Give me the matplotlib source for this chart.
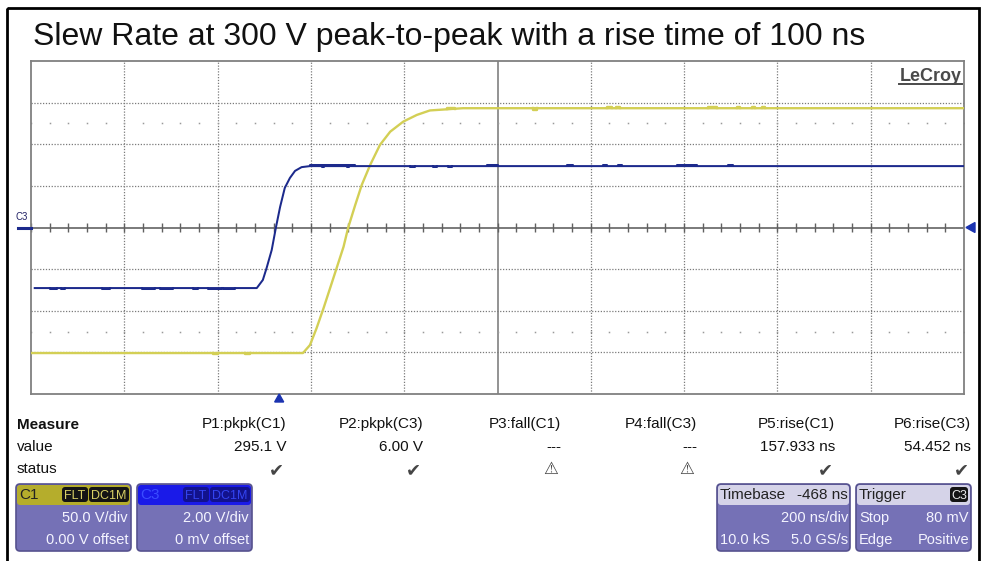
import numpy as np
import matplotlib
matplotlib.use("Agg")
import matplotlib.pyplot as plt
from matplotlib.patches import FancyBboxPatch, Rectangle, Polygon

# ---------------------------------------------
# Scope settings and traces (time in ns from screen centre, volts)
# ---------------------------------------------

c1_volts_per_div = 50.0
c3_volts_per_div = 2.0
ns_per_div = 200.0
trigger_ns = -468

c1_time = [-998, -417, -402, -388, -373, -359, -345, -330, -320, -305, -291,
           -273, -252, -230, -202, -173, -145, -95, -74, 1000]
c1_volt = [-150.8, -150.8, -141.2, -121.2, -97.1, -73.1, -49.0, -23.1, 0.0, 27.0, 51.1,
           75.1, 99.2, 115.1, 127.2, 135.2, 140.6, 142.5, 143.3, 143.3]

c3_time = [-992, -516, -503, -495, -484, -475, -466, -456, -445, -434, -420, -402, 1000]
c3_volt = [-2.91, -2.91, -2.52, -1.95, -1.08, 0.0, 0.99, 1.90, 2.38, 2.72, 2.90, 2.95, 2.95]

# small notches on the flat parts: (start ns, end ns, step in volts)
c1_glitches = [(-610, -600, -1.4), (-541, -531, -1.4), (-108, -91, 1.0), (76, 85, -2.0),
               (234, 245, 1.2), (255, 263, 1.2), (451, 470, 1.2), (514, 520, 1.2),
               (546, 552, 1.2), (567, 574, 1.2)]
c3_glitches = [(-959, -944, -0.05), (-935, -928, -0.05), (-848, -830, -0.05), (-762, -734, -0.05),
               (-723, -696, -0.05), (-653, -642, -0.05), (-620, -590, -0.05), (-588, -563, -0.05),
               (-402, -305, 0.05), (-376, -372, -0.05), (-322, -319, -0.05), (-187, -177, -0.05),
               (-138, -130, -0.05), (-106, -97, -0.05), (-22, 0, 0.05), (149, 162, 0.05),
               (226, 235, 0.05), (258, 267, 0.05), (385, 428, 0.05), (494, 505, 0.05)]

measure_names = ["P1:pkpk(C1)", "P2:pkpk(C3)", "P3:fall(C1)", "P4:fall(C3)", "P5:rise(C1)", "P6:rise(C3)"]
measure_values = ["295.1 V", "6.00 V", "---", "---", "157.933 ns", "54.452 ns"]
measure_ok = [True, True, False, False, True, True]

YELLOW = "#d3cf55"
BLUE = "#1c2a8c"
GRID = "#7a7a7a"
PANEL = "#7571b6"
PANEL_EDGE = "#56528f"
SANS = "Liberation Sans"

W, H = 985, 561
fig = plt.figure(figsize=(W / 100, H / 100), dpi=100, facecolor="white")


def px_box(x0, y0, x1, y1):
    return [x0 / W, 1 - y1 / H, (x1 - x0) / W, (y1 - y0) / H]


# ---------------------------------------------
# Scope graticule
# ---------------------------------------------

ax = fig.add_axes(px_box(31, 61, 964, 394))
ax.set_xlim(-5 * ns_per_div, 5 * ns_per_div)
ax.set_ylim(-4, 4)
ax.set_xticks([])
ax.set_yticks([])
for s in ax.spines.values():
    s.set_color("#808080")
    s.set_linewidth(1.3)

for k in range(-4, 5):
    if k == 0:
        ax.axvline(0, color="#8a8a8a", lw=1.3, zorder=1)
    else:
        ax.axvline(k * ns_per_div, color=GRID, lw=0.9, ls=(0, (1, 1.3)), zorder=1)
for k in range(-3, 4):
    if k == 0:
        ax.axhline(0, color="#707070", lw=1.3, zorder=1)
    else:
        ax.axhline(k, color=GRID, lw=0.9, ls=(0, (1, 1.3)), zorder=1)

minor_x = np.arange(-5 * ns_per_div, 5 * ns_per_div + 1, ns_per_div / 5)
ax.vlines(minor_x, -0.1, 0.1, color="#606060", lw=1.0, zorder=1)
for yy in (2.5, -2.5):
    ax.plot(minor_x, np.full(len(minor_x), yy), ls="none", marker="s", ms=1.1,
            color="#9a9a9a", mec="none", zorder=1)


def draw_trace(t, v, glitches, scale, color, lw):
    ax.plot(t, np.array(v) / scale, color=color, lw=lw, zorder=3, solid_joinstyle="round")
    for t0, t1, dv in glitches:
        lvl = np.interp(t0, t, v)
        ax.plot([t0, t0, t1, t1], np.array([lvl, lvl + dv, lvl + dv, lvl]) / scale,
                color=color, lw=lw, zorder=3)


draw_trace(c1_time, c1_volt, c1_glitches, c1_volts_per_div, YELLOW, 1.7)
draw_trace(c3_time, c3_volt, c3_glitches, c3_volts_per_div, BLUE, 1.45)

# ---------------------------------------------
# Overlay: title, markers, measurement table, panels
# ---------------------------------------------

ov = fig.add_axes([0, 0, 1, 1])
ov.set_xlim(0, W)
ov.set_ylim(H, 0)
ov.axis("off")

ov.add_patch(Rectangle((7, 8), 972, 600, fill=False, lw=2, ec="black"))
ov.text(33, 45, "Slew Rate at 300 V peak-to-peak with a rise time of 100 ns",
        fontsize=23, family=SANS, color="#111111", va="baseline")

ov.text(962, 81, "LeCroy", fontsize=13, family=SANS, weight="bold", color="#4a4a4a",
        ha="right", va="baseline")
ov.plot([899, 962], [84, 84], color="#4a4a4a", lw=1.4)

# channel marker and ground arrow
ov.text(16, 220, "C3", fontsize=7, family=SANS, color="#222266", va="baseline")
ov.plot([18, 31], [227.5, 227.5], color=BLUE, lw=2.2)
ov.add_patch(Polygon([[966, 227.5], [975, 222.5], [975, 232.5]], color="#1b33b0"))
# trigger position arrow
trig_x = 31 + (trigger_ns + 5 * ns_per_div) / (10 * ns_per_div) * 933
ov.add_patch(Polygon([[trig_x, 394], [trig_x - 4.5, 402], [trig_x + 4.5, 402]], color="#1b33b0"))

# measurement table
tbl = dict(fontsize=11, family=SANS, va="baseline", color="#111111")
ov.text(17, 429, "Measure", weight="bold", **tbl)
ov.text(17, 451, "value", **tbl)
ov.text(17, 473, "status", **tbl)
col_right = [286, 423, 561, 697, 835, 971]
for xr, name, val, ok in zip(col_right, measure_names, measure_values, measure_ok):
    ov.text(xr, 428, name, ha="right", **tbl)
    ov.text(xr, 451, val, ha="right", **tbl)
    if ok:
        ov.text(xr - 2, 475, "\u2714", fontsize=13, family="DejaVu Sans", color="#454545",
                ha="right", va="baseline")
    else:
        ov.text(xr - 3, 474, "\u26a0", fontsize=12, family="DejaVu Sans", color="#454545",
                ha="right", va="baseline")


def panel(x0, x1, head_color):
    ov.add_patch(FancyBboxPatch((x0, 484), x1 - x0, 67, boxstyle="round,pad=0,rounding_size=4",
                                fc=PANEL, ec=PANEL_EDGE, lw=1.2))
    ov.add_patch(FancyBboxPatch((x0 + 1, 485), x1 - x0 - 2, 20, boxstyle="round,pad=0,rounding_size=3",
                                fc=head_color, ec="none"))


def tag(x0, x1, text, fc, tc):
    ov.add_patch(FancyBboxPatch((x0, 487), x1 - x0, 15, boxstyle="round,pad=0,rounding_size=3",
                                fc=fc, ec="none"))
    ov.text((x0 + x1) / 2, 499, text, fontsize=9, family=SANS, color=tc, ha="center", va="baseline")


body_kw = dict(fontsize=10.5, family=SANS, color="#f4f4ff", va="baseline")
head_kw = dict(fontsize=11, family=SANS, color="#222222", va="baseline")

# C1 panel
panel(16, 131, "#b5ad2c")
ov.text(19, 499, "C1", **head_kw)
tag(62, 88, "FLT", "#141414", "#d8d066")
tag(89, 129, "DC1M", "#141414", "#d8d066")
ov.text(128, 522, "50.0 V/div", ha="right", **body_kw)
ov.text(128, 544, "0.00 V offset", ha="right", **body_kw)

# C3 panel
panel(137, 252, "#1a1ae8")
ov.text(140, 499, "C3", fontsize=11, family=SANS, color="#3a4cff", va="baseline")
tag(183, 209, "FLT", "#12128c", "#3344f2")
tag(210, 250, "DC1M", "#12128c", "#3344f2")
ov.text(249, 522, "2.00 V/div", ha="right", **body_kw)
ov.text(249, 544, "0 mV offset", ha="right", **body_kw)

# Timebase panel
panel(717, 850, "#d5d3e8")
ov.text(720, 499, "Timebase", **head_kw)
ov.text(848, 499, "-468 ns", ha="right", **head_kw)
ov.text(848, 522, "200 ns/div", ha="right", **body_kw)
ov.text(720, 544, "10.0 kS", **body_kw)
ov.text(848, 544, "5.0 GS/s", ha="right", **body_kw)

# Trigger panel
panel(856, 971, "#d5d3e8")
ov.text(859, 499, "Trigger", **head_kw)
tag(950, 968, "C3", "#141414", "#e8e8e8")
ov.text(859, 522, "Stop", **body_kw)
ov.text(969, 522, "80 mV", ha="right", **body_kw)
ov.text(859, 544, "Edge", **body_kw)
ov.text(969, 544, "Positive", ha="right", **body_kw)

fig.savefig("out.png", dpi=100)
